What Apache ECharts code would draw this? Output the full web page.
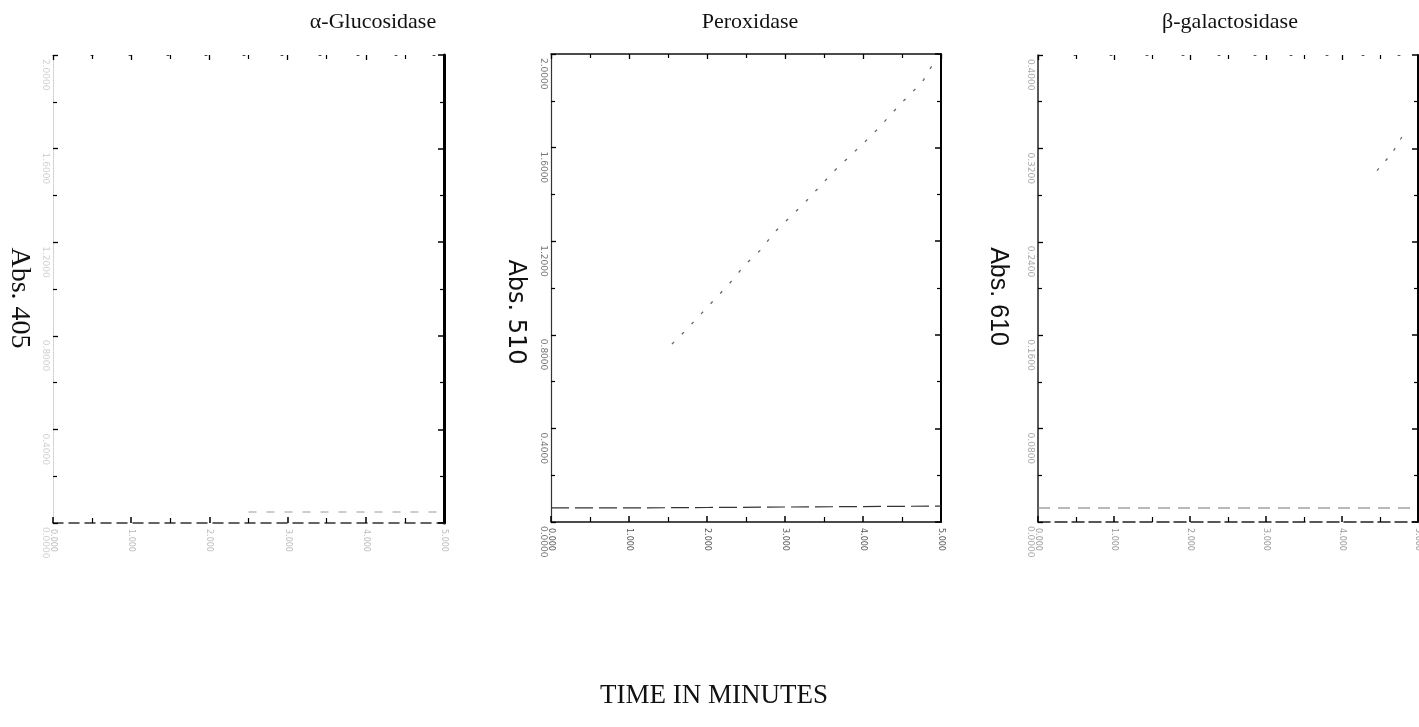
<!DOCTYPE html>
<html>
<head>
<meta charset="utf-8">
<script src="https://cdn.jsdelivr.net/npm/echarts@6/dist/echarts.min.js"></script>
<style>html,body{margin:0;padding:0;background:#fff;}#c{width:1419px;height:727px;}</style>
</head>
<body>
<div id="c"></div>
<script>
// ---- data ----
const panelTitles = ['\u03B1-Glucosidase', 'Peroxidase', '\u03B2-galactosidase'];
const yNames = ['Abs. 405', 'Abs. 510', 'Abs. 610'];
const xAxisName = 'TIME IN MINUTES';
const timeTicks = [0, 1, 2, 3, 4, 5];           // minutes
const yMaxes = [2.0, 2.0, 0.4];
const yIntervals = [0.4, 0.4, 0.08];

// alpha-glucosidase: baseline only legible
const glucBaseTime = [2.5, 3.0, 3.5, 4.0, 4.5, 5.0];
const glucBaseAbs  = [0.047, 0.047, 0.047, 0.047, 0.047, 0.047];

// peroxidase
const peroxTime = [1.55, 1.73, 2.29, 2.49, 2.68, 2.87, 3.24, 3.63, 3.82, 4.01, 4.19, 4.38, 4.55, 4.76, 4.92];
const peroxAbs  = [0.76, 0.82, 1.02, 1.10, 1.16, 1.24, 1.36, 1.50, 1.56, 1.62, 1.68, 1.75, 1.81, 1.88, 1.97];
const peroxBaseTime = [0, 1, 2, 3, 4, 5];
const peroxBaseAbs  = [0.06, 0.06, 0.062, 0.064, 0.066, 0.068];

// beta-galactosidase
const galTime = [4.46, 4.66, 4.79];
const galAbs  = [0.301, 0.316, 0.330];
const galBaseTime = [0, 1, 2, 3, 4, 5];
const galBaseAbs  = [0.012, 0.012, 0.012, 0.012, 0.012, 0.012];

// ---- layout / style ----
const grids = [
  {left: 53, top: 55, width: 391, height: 468},
  {left: 551, top: 54, width: 390, height: 468},
  {left: 1038, top: 55, width: 380, height: 467}
];
const titleX = [368, 745, 1225];
const labelColors = ['#d0d0d0', '#777', '#aaa'];
const xLabelColors = ['#bbb', '#555', '#999'];
const nameFonts = [
  {fontFamily: 'Liberation Serif', fontSize: 28, padding: [0, 0, 0, 18]},
  {fontFamily: 'DejaVu Sans', fontSize: 24, padding: [0, 0, 0, 48]},
  {fontFamily: 'Liberation Sans', fontSize: 25, padding: [0, 0, 0, 16]}
];
const nameGaps = [20, 24, 28];
const frame = [
  {bottom: {color: '#333', width: 1.5, type: [10, 6]}, top: {color: '#444', width: 1, type: [2, 36]}, left: {color: '#ccc', width: 1, type: 'dotted'}, right: {color: '#000', width: 3, type: 'solid'}},
  {bottom: {color: '#111', width: 1.5, type: 'solid'}, top: {color: '#111', width: 1.5, type: 'solid'}, left: {color: '#333', width: 1.2, type: 'solid'}, right: {color: '#000', width: 2, type: 'solid'}},
  {bottom: {color: '#222', width: 1.5, type: [12, 5]}, top: {color: '#555', width: 1, type: [2, 34]}, left: {color: '#222', width: 1.5, type: 'solid'}, right: {color: '#000', width: 2, type: 'solid'}}
];

const xAxes = [], yAxes = [];
for (let g = 0; g < 3; g++) {
  const f = frame[g];
  xAxes.push({
    gridIndex: g, type: 'value', position: 'bottom', min: timeTicks[0], max: timeTicks[timeTicks.length - 1], interval: 1,
    axisLine: {show: true, onZero: false, lineStyle: f.bottom},
    axisTick: {show: true, inside: true, length: 6, lineStyle: {color: '#000', width: 1.5}},
    minorTick: {show: true, splitNumber: 2, length: 5, lineStyle: {color: '#000', width: 1.2}},
    splitLine: {show: false},
    axisLabel: {show: true, rotate: -90, margin: 6, fontSize: 8, fontFamily: 'DejaVu Sans', color: xLabelColors[g],
      formatter: v => v.toFixed(3)}
  });
  xAxes.push({
    gridIndex: g, type: 'value', position: 'top', min: timeTicks[0], max: timeTicks[timeTicks.length - 1], interval: 1,
    axisLine: {show: true, onZero: false, lineStyle: f.top},
    axisTick: {show: true, inside: true, length: 5, lineStyle: {color: '#000', width: 1.3}},
    minorTick: {show: true, splitNumber: 2, length: 4, lineStyle: {color: '#000', width: 1.2}},
    splitLine: {show: false}, axisLabel: {show: false}
  });
  yAxes.push({
    gridIndex: g, type: 'value', position: 'left', min: 0, max: yMaxes[g], interval: yIntervals[g],
    name: yNames[g], nameLocation: 'middle', nameRotate: -90, nameGap: nameGaps[g],
    nameTextStyle: Object.assign({color: '#111'}, nameFonts[g]),
    axisLine: {show: true, onZero: false, lineStyle: f.left},
    axisTick: {show: true, inside: true, length: 5, lineStyle: {color: '#000', width: 1.3}},
    minorTick: {show: true, splitNumber: 2, length: 4, lineStyle: {color: '#000', width: 1.2}},
    splitLine: {show: false},
    axisLabel: {show: true, rotate: -90, margin: 3, fontSize: 9, fontFamily: 'DejaVu Sans', color: labelColors[g],
      align: 'left', verticalAlign: 'top', padding: [0, 0, 0, 4], formatter: v => v.toFixed(4)}
  });
  yAxes.push({
    gridIndex: g, type: 'value', position: 'right', min: 0, max: yMaxes[g], interval: yIntervals[g],
    axisLine: {show: true, onZero: false, lineStyle: f.right},
    axisTick: {show: true, inside: true, length: 6, lineStyle: {color: '#000', width: 1.5}},
    minorTick: {show: true, splitNumber: 2, length: 4, lineStyle: {color: '#000', width: 1.2}},
    splitLine: {show: false}, axisLabel: {show: false}
  });
}

function zip(a, b) { return a.map((v, i) => [v, b[i]]); }
function lineSeries(g, xs, ys, style) {
  return {type: 'line', xAxisIndex: g * 2, yAxisIndex: g * 2, data: zip(xs, ys), symbol: 'none',
    lineStyle: style, silent: true, animation: false};
}

const option = {
  backgroundColor: '#fff',
  animation: false,
  title: panelTitles.map((t, i) => ({
    text: t, left: titleX[i], top: 6, textAlign: 'center',
    textStyle: {fontFamily: 'Liberation Serif', fontSize: 22, fontWeight: 'normal', color: '#111'}
  })).concat([{
    text: xAxisName, left: 709, top: 677, textAlign: 'center',
    textStyle: {fontFamily: 'Liberation Serif', fontSize: 27, fontWeight: 'normal', color: '#111'}
  }]),
  grid: grids.map(g => Object.assign({containLabel: false, outerBoundsMode: 'none', show: false}, g)),
  xAxis: xAxes,
  yAxis: yAxes,
  series: [
    lineSeries(0, glucBaseTime, glucBaseAbs, {color: '#999', width: 1, type: [8, 10]}),
    lineSeries(1, peroxTime, peroxAbs, {color: '#666', width: 1.3, type: [3, 11]}),
    lineSeries(1, peroxBaseTime, peroxBaseAbs, {color: '#333', width: 1.2, type: [18, 6]}),
    lineSeries(2, galTime, galAbs, {color: '#666', width: 1.2, type: [3, 10]}),
    lineSeries(2, galBaseTime, galBaseAbs, {color: '#777', width: 1.1, type: [12, 8]})
  ]
};

const chart = echarts.init(document.getElementById('c'), null, {renderer: 'canvas'});
chart.setOption(option);
</script>
</body>
</html>
